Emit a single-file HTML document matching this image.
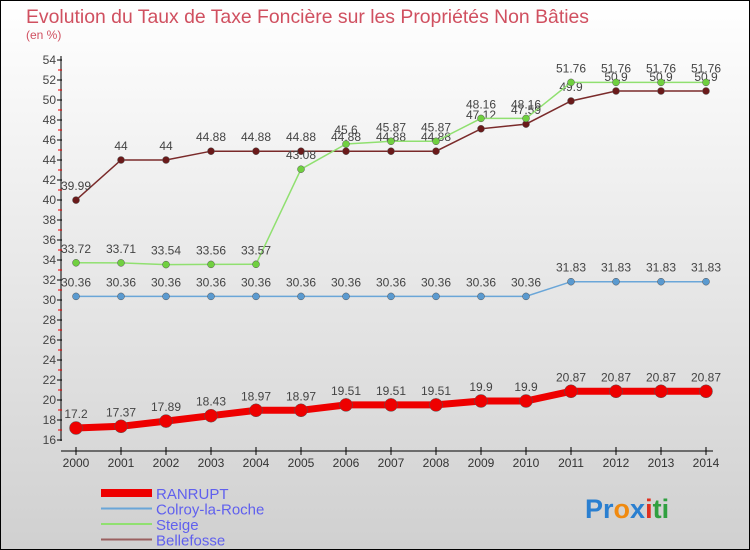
<!DOCTYPE html>
<html><head><meta charset="utf-8"><style>
body{margin:0}
#wrap{position:relative;width:748px;height:548px;border:1px solid #000;background:linear-gradient(#fff,#d0d0d0);font-family:"Liberation Sans",sans-serif;overflow:hidden}
text{font-family:"Liberation Sans",sans-serif}
</style></head><body>
<div id="wrap">
<svg id="svg" width="748" height="548" xmlns="http://www.w3.org/2000/svg">
<text x="25" y="22" font-size="19.4" fill="#d05060">Evolution du Taux de Taxe Foncière sur les Propriétés Non Bâties</text>
<text x="25" y="38" font-size="12" fill="#d05060">(en %)</text>
<text x="584" y="517" font-size="27" font-weight="bold"><tspan fill="#2a7fd0">Pr</tspan><tspan fill="#f08a10">o</tspan><tspan fill="#2a7fd0">x</tspan><tspan fill="#e03020">i</tspan><tspan fill="#30a040">ti</tspan></text>
</svg>
</div>
<script>
const years=[2000,2001,2002,2003,2004,2005,2006,2007,2008,2009,2010,2011,2012,2013,2014];
const yTicks=[16,18,20,22,24,26,28,30,32,34,36,38,40,42,44,46,48,50,52,54];
const bellefosse=[39.99,44,44,44.88,44.88,44.88,44.88,44.88,44.88,47.12,47.59,49.9,50.9,50.9,50.9];
const steige=[33.72,33.71,33.54,33.56,33.57,43.08,45.6,45.87,45.87,48.16,48.16,51.76,51.76,51.76,51.76];
const colroy=[30.36,30.36,30.36,30.36,30.36,30.36,30.36,30.36,30.36,30.36,30.36,31.83,31.83,31.83,31.83];
const ranrupt=[17.2,17.37,17.89,18.43,18.97,18.97,19.51,19.51,19.51,19.9,19.9,20.87,20.87,20.87,20.87];
const svg=document.getElementById('svg');const NS='http://www.w3.org/2000/svg';
const X=i=>75+i*45, Y=v=>59+(54-v)*10;
function mk(t,a,p){const e=document.createElementNS(NS,t);for(const k in a)e.setAttribute(k,a[k]);(p||svg).appendChild(e);return e;}
const ax=mk('g',{});


mk('line',{x1:60,y1:55,x2:60,y2:440,stroke:'#000'},ax);
mk('line',{x1:60,y1:450,x2:712,y2:450,stroke:'#000'},ax);
yTicks.forEach(v=>{mk('line',{x1:56,y1:Y(v),x2:61,y2:Y(v),stroke:'#000'},ax);
 if(v>16)mk('line',{x1:57,y1:Y(v)+10,x2:61,y2:Y(v)+10,stroke:'#e00'},ax);
 const t=mk('text',{x:55,y:Y(v)+4,'font-size':12,fill:'#444','text-anchor':'end'},ax);t.textContent=v;});
years.forEach((y,i)=>{mk('line',{x1:X(i),y1:446,x2:X(i),y2:454,stroke:'#000'},ax);
 const t=mk('text',{x:X(i),y:466,'font-size':12,fill:'#333','text-anchor':'middle'},ax);t.textContent=y;});
function series(name,data,color,w,r,dot){
 const g=mk('g',{});
 
 
 mk('polyline',{points:data.map((v,i)=>X(i)+','+Y(v)).join(' '),fill:'none',stroke:color,'stroke-width':w},g);
 data.forEach((v,i)=>{const c=mk('circle',{cx:X(i),cy:Y(v),r:r,fill:dot,stroke:'#555','stroke-width':0.5},g);
  
  
  const t=mk('text',{x:X(i),y:Y(v)-10,'font-size':12,fill:'#444','text-anchor':'middle'},g);t.textContent=v;});
}
series('colroy',colroy,'#6aa6d8',1.5,3.5,'#5a9ad0');
series('bellefosse',bellefosse,'#7a2a2a',1.5,3.5,'#6a1a1a');
series('steige',steige,'#90e070',1.5,3.5,'#70d040');
series('ranrupt',ranrupt,'#ee0000',7,6.5,'#ee0000');
const lg=[['RANRUPT','#ee0000',8],['Colroy-la-Roche','#6aa6d8',2],['Steige','#90e070',2],['Bellefosse','#9a6060',2]];
lg.forEach((l,i)=>{const g=mk('g',{});
 
 
 const y=492+i*15.5;mk('line',{x1:100,y1:y,x2:151,y2:y,stroke:l[1],'stroke-width':l[2]},g);
 const t=mk('text',{x:155,y:y+6,'font-size':15,fill:'#6060ee'},g);t.textContent=l[0];});
</script>
</body></html>
